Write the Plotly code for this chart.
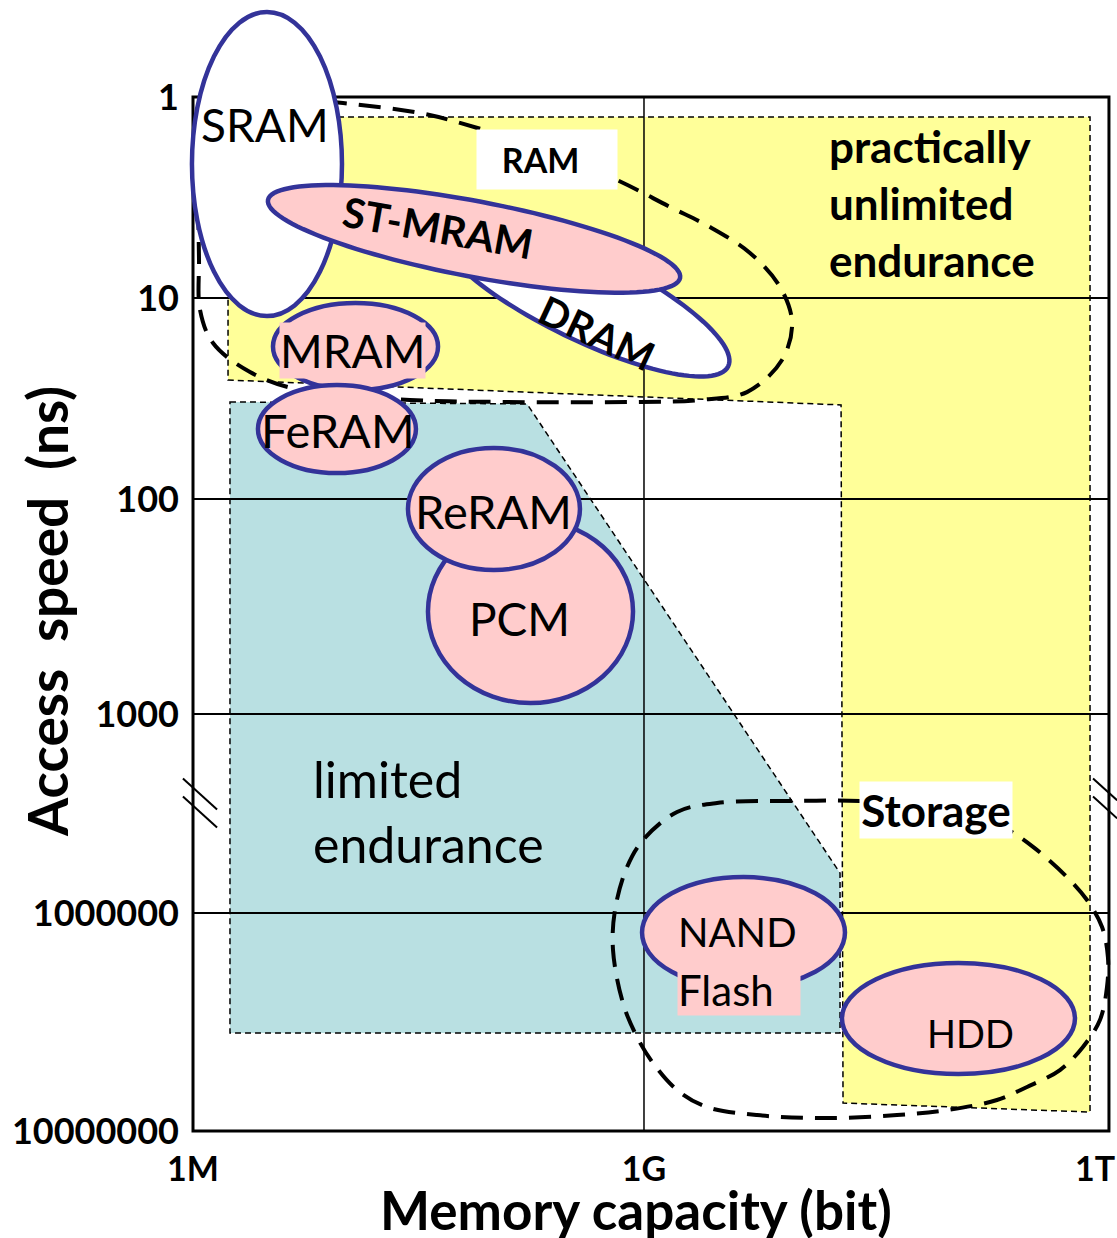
import numpy as np
import plotly.graph_objects as go

# x = log10(capacity in bit), y = speed band (1 ns at the top, axis is broken after 1000)
x_tick_vals = [6, 9, 12]
x_tick_text = ["1M", "1G", "1T"]
y_tick_vals = [0, 1, 2, 3.07, 4.06, 5.144]
y_tick_text = ["1", "10", "100", "1000", "1000000", "10000000"]
y_break = 3.53

x_frame = [6, 12.093]
y_frame = [0, 5.144]
x_range = [5.9135, 12.1465]
y_range = [5.179, -0.4826]

# memory cells drawn as upright ellipses: capacity span and speed span
cell_names = ["SRAM", "MRAM", "FeRAM", "PCM", "ReRAM", "NAND", "HDD"]
cell_x_lo = [5.993, 6.532, 6.432, 7.563, 7.430, 8.987, 10.317]
cell_x_hi = [6.991, 7.630, 7.483, 8.927, 8.574, 10.337, 11.867]
cell_y_lo = [-0.423, 1.025, 1.433, 2.104, 1.746, 3.881, 4.308]
cell_y_hi = [1.090, 1.458, 1.871, 3.015, 2.353, 4.433, 4.861]
cell_white = [True, False, False, False, False, False, False]

# tilted cells: the two tips of the long axis and the thickness ratio
tilt_names = ["DRAM", "ST-MRAM"]
tilt_x1 = [7.630, 6.499]
tilt_y1 = [0.637, 0.512]
tilt_x2 = [9.560, 9.240]
tilt_y2 = [1.340, 0.900]
tilt_ratio = [0.27, 0.18]
tilt_white = [True, False]

# endurance regions
yellow_x = [6.233, 11.967, 11.967, 10.324, 10.311, 6.233]
yellow_y = [0.100, 0.100, 5.050, 5.005, 1.532, 1.408]
teal_x = [6.246, 8.222, 10.304, 10.304, 6.246]
teal_y = [1.517, 1.527, 3.861, 4.657, 4.657]

# dashed groupings
ram_x = [6.040, 6.080, 6.313, 6.712, 6.998, 7.510, 7.776, 8.308, 8.820, 9.173,
         9.439, 9.705, 9.905, 9.985, 9.918, 9.685, 9.373, 8.973, 8.042, 7.443,
         6.712, 6.379, 6.133, 6.047, 6.040, 6.040]
ram_y = [0.512, 0.214, 0.040, 0.015, 0.030, 0.080, 0.129, 0.254, 0.413, 0.547,
         0.647, 0.776, 0.945, 1.124, 1.308, 1.468, 1.507, 1.517, 1.517, 1.507,
         1.458, 1.368, 1.224, 1.060, 0.811, 0.512]
sto_x = [11.036, 10.437, 9.971, 9.486, 9.220, 8.993, 8.887, 8.807, 8.794, 8.860,
         8.954, 9.060, 9.220, 9.419, 9.752, 10.191, 10.683, 11.016, 11.348, 11.548,
         11.767, 11.920, 12.033, 12.080, 12.086, 12.047, 11.947, 11.814, 11.588, 11.368,
         11.036]
sto_y = [3.522, 3.502, 3.502, 3.512, 3.557, 3.697, 3.831, 4.045, 4.244, 4.507,
         4.677, 4.806, 4.940, 5.025, 5.065, 5.080, 5.065, 5.040, 4.990, 4.925,
         4.841, 4.726, 4.592, 4.428, 4.279, 4.129, 3.995, 3.881, 3.731, 3.622,
         3.522]

W, H = 1117, 1238
ML, MR, MT, MB = 180, 0, 0, 100
FONT = "Lato"
NAVY = "#333399"
PINK = "#FFCCCC"
xs = (W - ML - MR) / (x_range[1] - x_range[0])
ys = (H - MT - MB) / (y_range[0] - y_range[1])


def tilted_path(xa, ya, xb, yb, ratio, n=120):
    p1 = np.array([xa * xs, ya * ys])
    p2 = np.array([xb * xs, yb * ys])
    c = (p1 + p2) / 2
    d = p2 - p1
    a = np.hypot(d[0], d[1]) / 2
    u = d / (2 * a)
    v = np.array([-u[1], u[0]])
    t = np.linspace(0, 2 * np.pi, n, endpoint=False)
    px = c[0] + a * np.cos(t) * u[0] + ratio * a * np.sin(t) * v[0]
    py = c[1] + a * np.cos(t) * u[1] + ratio * a * np.sin(t) * v[1]
    pts = [f"{x / xs:.4f},{y / ys:.4f}" for x, y in zip(px, py)]
    return "M " + " L ".join(pts) + " Z"


def poly_path(xv, yv):
    return "M " + " L ".join(f"{x},{y}" for x, y in zip(xv, yv)) + " Z"


fig = go.Figure()

# regions (under the grid)
fig.add_shape(type="path", path=poly_path(yellow_x, yellow_y), fillcolor="#FFFF99",
              line=dict(color="black", width=1.5, dash="6px,4px"), layer="below")
fig.add_shape(type="path", path=poly_path(teal_x, teal_y), fillcolor="#B9E0E2",
              line=dict(color="black", width=1.5, dash="6px,4px"), layer="below")

# grid and frame
for yv in y_tick_vals[1:-1]:
    fig.add_shape(type="line", x0=x_frame[0], x1=x_frame[1], y0=yv, y1=yv,
                  line=dict(color="black", width=2), layer="between")
fig.add_shape(type="line", x0=9, x1=9, y0=y_frame[0], y1=y_frame[1],
              line=dict(color="black", width=1.5), layer="between")
fig.add_shape(type="rect", x0=x_frame[0], x1=x_frame[1], y0=y_frame[0], y1=y_frame[1],
              line=dict(color="black", width=3), layer="between")

# axis break marks
for x_left, x_right in [(5.933, 6.16), (11.987, 12.147)]:
    dy = (x_right - x_left) * xs * 0.91 / ys
    for off in (-0.06, 0.03):
        fig.add_shape(type="line", x0=x_left, x1=x_right,
                      y0=y_break + off - 0.08, y1=y_break + off - 0.08 + dy,
                      line=dict(color="black", width=2), layer="between")

# dashed groupings
for gx, gy in [(ram_x, ram_y), (sto_x, sto_y)]:
    fig.add_trace(go.Scatter(x=gx, y=gy, mode="lines", line_shape="spline",
                             line=dict(color="black", width=4, dash="22px,12px"),
                             hoverinfo="skip", showlegend=False))

# cells
def add_cell(i):
    fig.add_shape(type="circle", x0=cell_x_lo[i], x1=cell_x_hi[i],
                  y0=cell_y_lo[i], y1=cell_y_hi[i],
                  fillcolor="white" if cell_white[i] else PINK,
                  line=dict(color=NAVY, width=4.5), layer="above")


add_cell(0)
for j in range(len(tilt_names)):
    fig.add_shape(type="path",
                  path=tilted_path(tilt_x1[j], tilt_y1[j], tilt_x2[j], tilt_y2[j], tilt_ratio[j]),
                  fillcolor="white" if tilt_white[j] else PINK,
                  line=dict(color=NAVY, width=4.5), layer="above")
for i in range(1, len(cell_names)):
    add_cell(i)


def label(text, x, y, size=46, bold=False, angle=0, bg=None, xanchor="center",
          align="center", width=None, height=None):
    fig.add_annotation(x=x, y=y, text=text, showarrow=False, textangle=angle,
                       xanchor=xanchor, yanchor="middle", align=align,
                       font=dict(family=FONT, size=size, color="black",
                                 weight="bold" if bold else "normal"),
                       bgcolor=bg, borderpad=0, width=width, height=height)


label("SRAM", 6.479, 0.139)
label("&nbsp;&nbsp;&nbsp;RAM", 8.354, 0.313, size=34, bold=True, bg="white",
      width=140, height=59, align="left")
label("ST-MRAM", 7.630, 0.647, size=41, bold=True, angle=10)
label("DRAM", 8.687, 1.174, size=40, bold=True, angle=25)
label("practically<br>unlimited<br>endurance", 10.224, 0.527, size=44, bold=True,
      xanchor="left", align="left")
label("MRAM", 7.058, 1.259, bg=PINK)
label("FeRAM", 6.965, 1.657, size=47)
label("ReRAM", 8.002, 2.060, size=47)
label("PCM", 8.169, 2.592)
label("limited<br>endurance", 6.792, 3.557, size=50, xanchor="left", align="left")
label("Storage", 10.942, 3.547, size=44, bold=True, bg="white", width=152, height=56)
label("NAND", 9.619, 4.154, size=40)
label("Flash", 9.632, 4.443, size=42, bg=PINK, align="left", width=122, height=50)
label("HDD", 11.175, 4.657, size=38)

# axis titles
fig.add_annotation(xref="paper", yref="paper", x=(47 - ML) / (W - ML - MR),
                   y=1 - 612 / (H - MT - MB), text="Access&nbsp; speed&nbsp; (ns)",
                   textangle=-90, showarrow=False, xanchor="center", yanchor="middle",
                   font=dict(family=FONT, size=55, color="black", weight="bold"))
fig.add_annotation(xref="paper", yref="paper", x=(636 - ML) / (W - ML - MR),
                   y=1 - 1209 / (H - MT - MB), text="Memory capacity (bit)",
                   showarrow=False, xanchor="center", yanchor="middle",
                   font=dict(family=FONT, size=53, color="black", weight="bold"))

fig.update_xaxes(range=x_range, tickvals=x_tick_vals, ticktext=x_tick_text,
                 showgrid=False, zeroline=False, showline=False, ticks="",
                 ticklabelstandoff=8,
                 tickfont=dict(family=FONT, size=34, color="black", weight="bold"))
fig.update_yaxes(range=y_range, tickvals=y_tick_vals, ticktext=y_tick_text,
                 showgrid=False, zeroline=False, showline=False, ticks="",
                 tickfont=dict(family=FONT, size=36, color="black", weight="bold"))
fig.update_layout(width=W, height=H, margin=dict(l=ML, r=MR, t=MT, b=MB),
                  paper_bgcolor="white", plot_bgcolor="white", showlegend=False)

fig.write_html("out.html", config={"displayModeBar": False},
               post_script="document.body.style.margin = '0';")
